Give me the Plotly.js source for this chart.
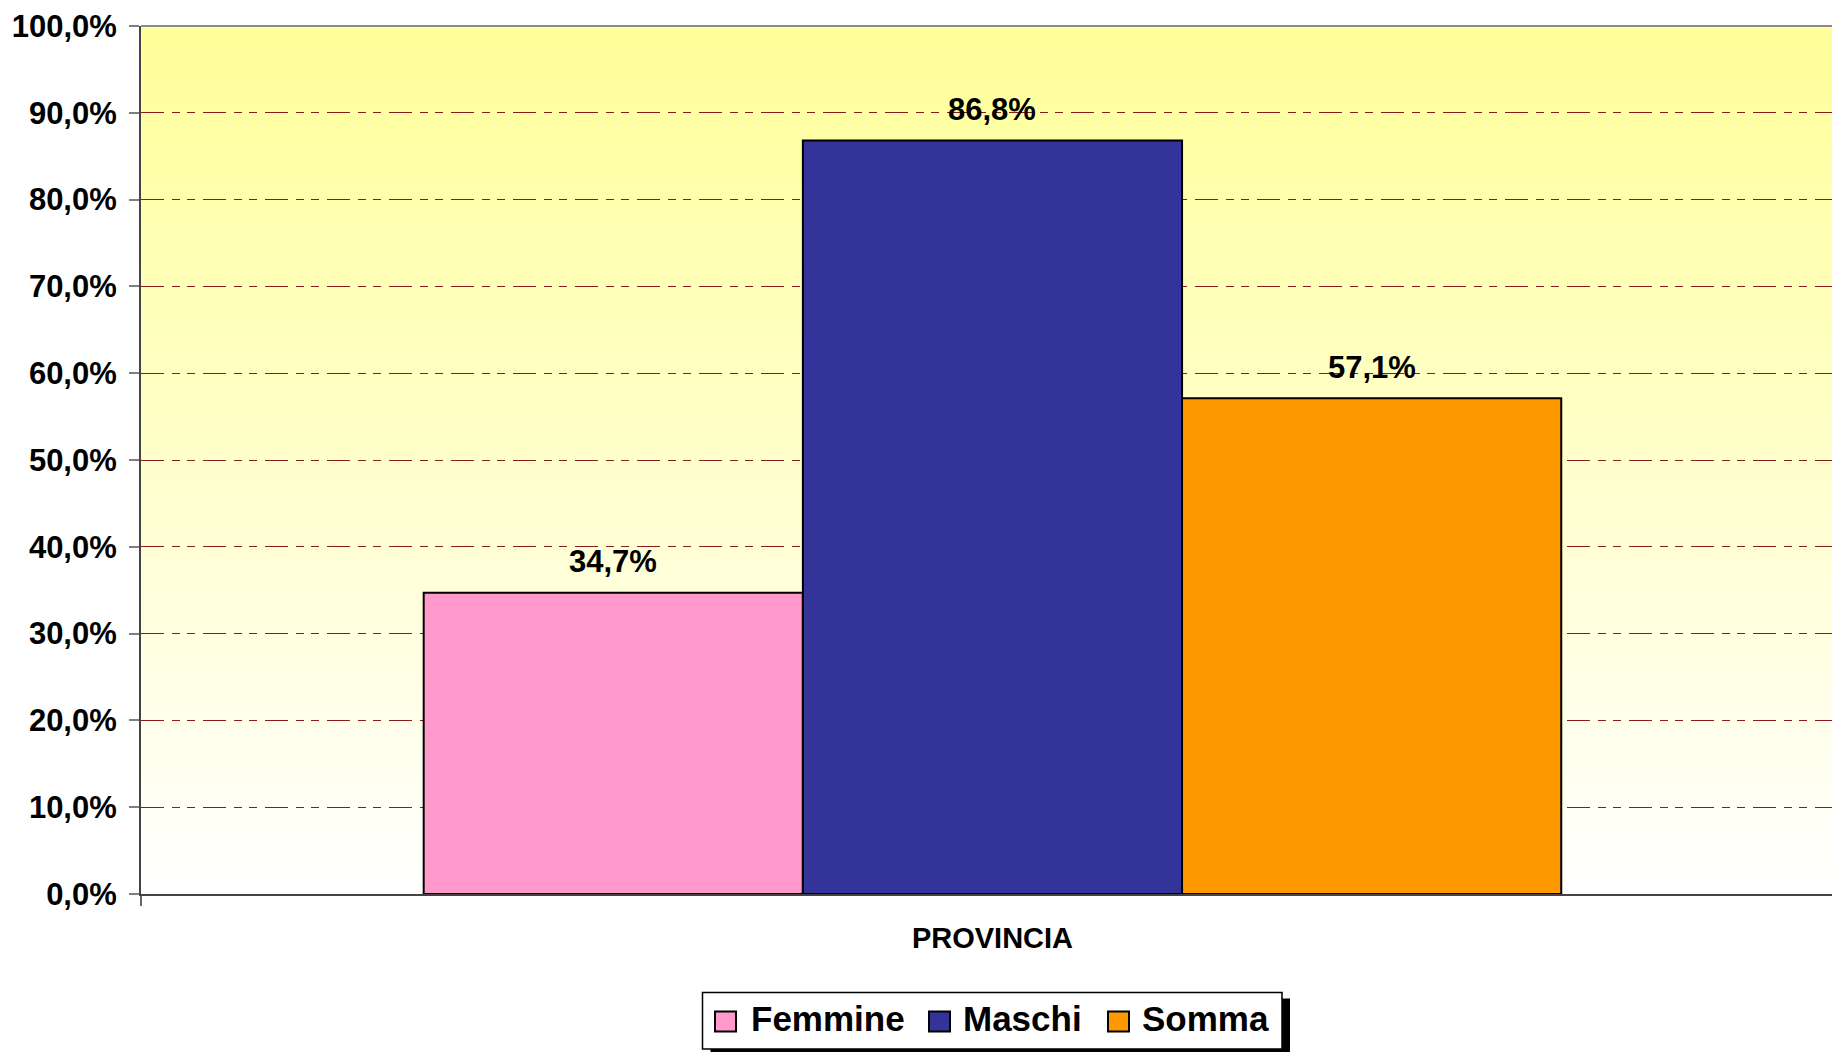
<!DOCTYPE html>
<html>
<head>
<meta charset="utf-8">
<script src="https://cdn.plot.ly/plotly-3.0.1.min.js"></script>
<style>
  html, body { margin: 0; padding: 0; background: #ffffff; }
  #chart { width: 1832px; height: 1052px; }
</style>
</head>
<body>
<div id="chart"></div>
<script>
// ---- data ----
const categories = ['PROVINCIA'];
const seriesNames = ['Femmine', 'Maschi', 'Somma'];
const femmine = [34.7];
const maschi = [86.8];
const somma = [57.1];
const seriesColors = ['#FF99CC', '#333399', '#FF9900'];
const yTickValues = [0, 10, 20, 30, 40, 50, 60, 70, 80, 90, 100];

const seriesValues = [femmine, maschi, somma];
const FONT = '"Liberation Sans", Arial, Helvetica, sans-serif';
const BARGAP = 0.332;

const fmt = v => v.toFixed(1).replace('.', ',') + '%';

const traces = [];
seriesValues.forEach((vals, i) => {
  traces.push({
    type: 'bar',
    name: seriesNames[i],
    x: categories,
    y: vals,
    marker: { color: seriesColors[i], line: { color: '#000000', width: 2 } },
    showlegend: false,
    hoverinfo: 'skip'
  });
});

// plot-area pixel frame (for paper-coordinate conversion of legend pieces)
const PL = 141, PR = 1832, PT = 26, PB = 894;
const px2x = p => (p - PL) / (PR - PL);
const py2y = p => (PB - p) / (PB - PT);

// data labels
const barW = (1 - BARGAP) / seriesValues.length;
const annotations = [];
seriesValues.forEach((vals, i) => {
  vals.forEach((v, j) => {
    annotations.push({
      xref: 'x', yref: 'y',
      x: j + (i - (seriesValues.length - 1) / 2) * barW,
      y: v,
      text: fmt(v),
      showarrow: false,
      yanchor: 'middle',
      yshift: 31,
      font: { family: FONT, size: 31, color: '#000000', weight: 'bold' }
    });
  });
});

// custom legend (box with drop shadow, square swatches, labels)
const legendBox = { x0: 702.5, x1: 1282, y0: 992.5, y1: 1049 };
const swatchLeft = [715, 929, 1108];
const textLeft = [749, 961, 1140];
const swatchTop = 1011.5, swatchBottom = 1031.5;

const shapes = [
  { type: 'line', xref: 'paper', yref: 'paper', x0: 0, x1: 1, y0: 1, y1: 1,
    line: { color: '#8C8C8C', width: 2 } },
  { type: 'rect', xref: 'paper', yref: 'paper',
    x0: px2x(legendBox.x0 + 8), x1: px2x(legendBox.x1 + 8),
    y0: py2y(legendBox.y1 + 8), y1: py2y(legendBox.y0 + 6),
    fillcolor: '#000000', line: { width: 0 }, layer: 'above' },
  { type: 'rect', xref: 'paper', yref: 'paper',
    x0: px2x(legendBox.x0), x1: px2x(legendBox.x1),
    y0: py2y(legendBox.y1), y1: py2y(legendBox.y0),
    fillcolor: '#FFFFFF', line: { color: '#000000', width: 1.5 }, layer: 'above' }
];
seriesNames.forEach((n, i) => {
  shapes.push({
    type: 'rect', xref: 'paper', yref: 'paper',
    x0: px2x(swatchLeft[i]), x1: px2x(swatchLeft[i] + 21),
    y0: py2y(swatchBottom), y1: py2y(swatchTop),
    fillcolor: seriesColors[i], line: { color: '#000000', width: 2 }, layer: 'above'
  });
  annotations.push({
    xref: 'paper', yref: 'paper',
    x: px2x(textLeft[i]), xanchor: 'left',
    y: py2y((swatchTop + swatchBottom) / 2 - 2.5), yanchor: 'middle',
    text: n, showarrow: false,
    font: { family: FONT, size: 35, color: '#000000', weight: 'bold' }
  });
});

const gradSvg = '<svg xmlns="http://www.w3.org/2000/svg" width="10" height="100" preserveAspectRatio="none">' +
  '<defs><linearGradient id="g" x1="0" y1="0" x2="0" y2="1">' +
  '<stop offset="0" stop-color="#FFFF99"/><stop offset="1" stop-color="#FFFFFF"/></linearGradient></defs>' +
  '<rect width="10" height="100" fill="url(#g)"/></svg>';
const gradURI = 'data:image/svg+xml;charset=utf-8,' + encodeURIComponent(gradSvg);

const layout = {
  width: 1832, height: 1052,
  margin: { l: PL, r: 1832 - PR, t: PT, b: 1052 - PB },
  paper_bgcolor: '#FFFFFF',
  plot_bgcolor: 'rgba(0,0,0,0)',
  barmode: 'group',
  bargap: BARGAP,
  bargroupgap: 0,
  separators: ',.',
  font: { family: FONT, color: '#000000' },
  images: [{
    source: gradURI, xref: 'paper', yref: 'paper',
    x: 0, y: 1, sizex: 1, sizey: 1, sizing: 'stretch',
    xanchor: 'left', yanchor: 'top', layer: 'below'
  }],
  xaxis: {
    type: 'category',
    range: [-0.5, 0.493],
    tickson: 'boundaries',
    ticks: 'outside', ticklen: 10, tickwidth: 2, tickcolor: '#666666',
    showline: true, linecolor: '#444444', linewidth: 2,
    showgrid: false, zeroline: false,
    tickfont: { family: FONT, size: 29, color: '#000000', weight: 'bold' },
    ticklabelstandoff: 17,
    fixedrange: true
  },
  yaxis: {
    range: [0, 100],
    tickvals: yTickValues,
    ticktext: yTickValues.map(fmt),
    ticks: 'outside', ticklen: 10, tickwidth: 2, tickcolor: '#808080',
    showline: true, linecolor: '#444444', linewidth: 2,
    showgrid: true, gridcolor: '#8B1A1A', gridwidth: 1,
    griddash: '23px,8px,8px,7px,8px,8px',
    zeroline: false,
    tickfont: { family: FONT, size: 31, color: '#000000', weight: 'bold' },
    ticklabelstandoff: 6,
    fixedrange: true
  },
  shapes: shapes,
  annotations: annotations,
  showlegend: false,
  hovermode: false
};

Plotly.newPlot('chart', traces, layout, { displayModeBar: false, staticPlot: true });
</script>
</body>
</html>
